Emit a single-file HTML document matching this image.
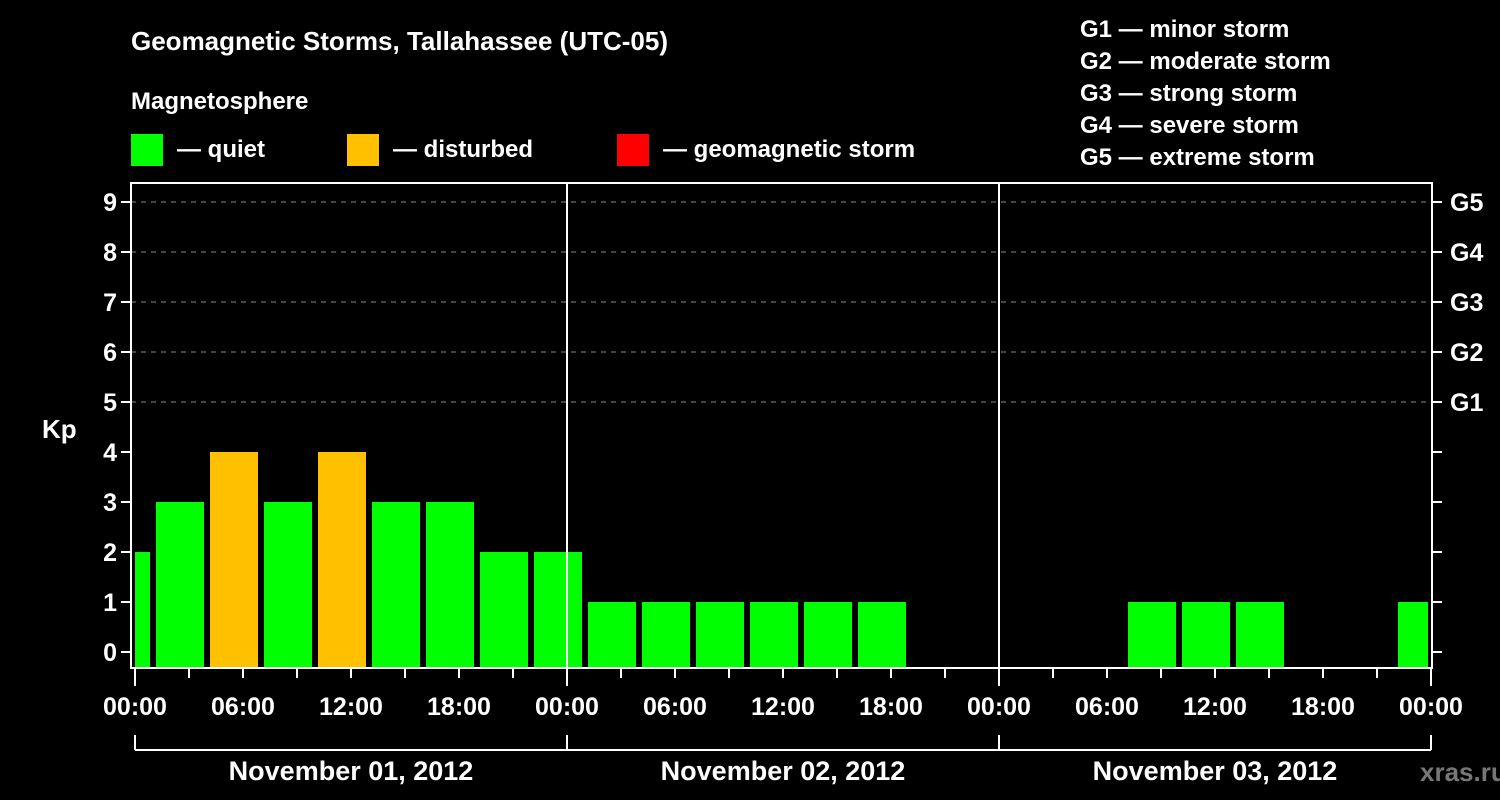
<!DOCTYPE html>
<html><head><meta charset="utf-8"><style>
html,body{margin:0;padding:0;background:#000;}
svg{display:block;font-family:"Liberation Sans",Arial,sans-serif;font-weight:bold;}
</style></head><body>
<svg id="chart" width="1500" height="800" viewBox="0 0 1500 800">
<text x="131" y="50" fill="#fff" font-size="26">Geomagnetic Storms, Tallahassee (UTC-05)</text>
<text x="131" y="109" fill="#fff" font-size="24">Magnetosphere</text>
<g><rect x="131" y="134" width="32" height="32" fill="#00ff00"/><text x="177" y="157" fill="#fff" font-size="24">— quiet</text></g>
<g><rect x="347" y="134" width="32" height="32" fill="#ffc000"/><text x="393" y="157" fill="#fff" font-size="24">— disturbed</text></g>
<g><rect x="617" y="134" width="32" height="32" fill="#ff0000"/><text x="663" y="157" fill="#fff" font-size="24">— geomagnetic storm</text></g>
<g fill="#fff" font-size="24">
<text x="1080" y="37">G1 — minor storm</text>
<text x="1080" y="69">G2 — moderate storm</text>
<text x="1080" y="101">G3 — strong storm</text>
<text x="1080" y="133">G4 — severe storm</text>
<text x="1080" y="165">G5 — extreme storm</text>
</g>
<text x="42" y="438" fill="#fff" font-size="26">Kp</text>
<text x="1420" y="781" fill="#777" font-size="26">xras.ru</text>
<g id="grid"></g><g id="bars"></g><g id="axes"></g>
</svg>
<script>
const days = ["November 01, 2012","November 02, 2012","November 03, 2012"];
const hourLabels = ["00:00","06:00","12:00","18:00"];
const kpTicks = [0,1,2,3,4,5,6,7,8,9];
const gLabels = ["G1","G2","G3","G4","G5"];
// 3-hour bins, local start hour relative to Nov 01 00:00
const binStart = [-2,1,4,7,10,13,16,19,22,25,28,31,34,37,40,43,46,49,52,55,58,61,64,67,70];
const kpValues = [2,3,4,3,4,3,3,2,2,1,1,1,1,1,1,0,0,0,0,1,1,1,0,0,1];

const NS="http://www.w3.org/2000/svg";
const L=131,R=1432,T=183,B=668,X0=135,X1=1431;
const totalH=days.length*24;
const x=h=>X0+(X1-X0)*h/totalH;
const y=k=>652-50*k;
function mk(tag,a,parent){const e=document.createElementNS(NS,tag);for(const k in a)e.setAttribute(k,a[k]);document.getElementById(parent).appendChild(e);return e;}
// grid
for(let k=5;k<=9;k++){
 const g=mk('line',{x1:L,x2:R,y1:y(k),y2:y(k),stroke:'#888','stroke-width':1,'stroke-dasharray':'5,5'},'grid');
 
 
}
// bars
kpValues.forEach((v,i)=>{
 if(v<=0)return;
 let x1=x(binStart[i])+3,x2=x(binStart[i]+3)-3;
 x1=Math.max(x1,X0);x2=Math.min(x2,R-4);
 const c=v>=5?'#ff0000':(v>=4?'#ffc000':'#00ff00');
 const r=mk('rect',{x:x1,y:y(v),width:x2-x1,height:B-1-y(v),fill:c},'bars');
 
 
});
// frame
const f=mk('rect',{x:L,y:T,width:R-L,height:B-T,fill:'none',stroke:'#fff','stroke-width':2},'axes');


for(let d=1;d<days.length;d++){
 const s=mk('line',{x1:x(d*24),x2:x(d*24),y1:T,y2:B,stroke:'#fff','stroke-width':2},'axes');
 
 
}
kpTicks.forEach(k=>{
 mk('line',{x1:L-10,x2:L,y1:y(k),y2:y(k),stroke:'#fff','stroke-width':2},'axes');
 mk('line',{x1:R,x2:R+10,y1:y(k),y2:y(k),stroke:'#fff','stroke-width':2},'axes');
 const t=mk('text',{x:L-14,y:y(k)+9,fill:'#fff','font-size':25,'text-anchor':'end'},'axes');
 t.textContent=k;
 
 
});
gLabels.forEach((g,i)=>{
 const t=mk('text',{x:1450,y:y(5+i)+9,fill:'#fff','font-size':25},'axes');
 t.textContent=g;
 
 
});
for(let h=0;h<=totalH;h+=3){
 const long=h%24===0;
 mk('line',{x1:x(h),x2:x(h),y1:B,y2:B+(long?18:10),stroke:'#fff','stroke-width':2},'axes');
}
for(let d=0;d<days.length;d++){
 hourLabels.forEach((lab,j)=>{
  const t=mk('text',{x:x(d*24+j*6),y:715,fill:'#fff','font-size':25,'text-anchor':'middle'},'axes');
  t.textContent=lab;
  
  
 });
 const t=mk('text',{x:x(d*24+12),y:780,fill:'#fff','font-size':27,'text-anchor':'middle'},'axes');
 t.textContent=days[d];
 
 
}
const tl=mk('text',{x:x(totalH),y:715,fill:'#fff','font-size':25,'text-anchor':'middle'},'axes');
tl.textContent=hourLabels[0];


mk('line',{x1:x(0),x2:x(totalH),y1:750,y2:750,stroke:'#fff','stroke-width':2},'axes');
for(let d=0;d<=days.length;d++) mk('line',{x1:x(d*24),x2:x(d*24),y1:735,y2:750,stroke:'#fff','stroke-width':2},'axes');
</script>
</body></html>
